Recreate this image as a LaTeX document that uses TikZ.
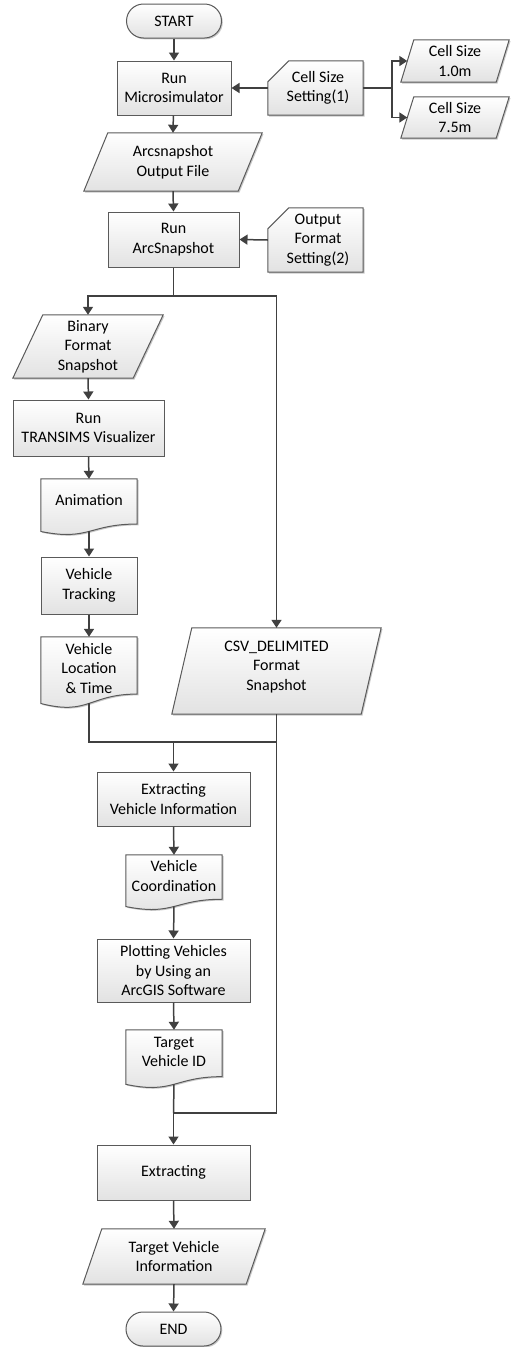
\documentclass[tikz,border=0pt]{standalone}
\usepackage{fontspec}
\setmainfont{Carlito}
\usetikzlibrary{arrows.meta,calc,shadows}
\definecolor{edgec}{HTML}{5A5A5A}
\definecolor{linec}{HTML}{404040}
\definecolor{fillb}{HTML}{E2E2E2}
\pgfdeclarelayer{bg}
\pgfdeclarelayer{paper}
\pgfsetlayers{paper,bg,main}
\tikzset{
  lbl/.style={align=center, inner sep=0pt, font=\fontsize{16}{19.5}\selectfont, text=black},
  shp/.style={draw=edgec, line width=1pt, top color=white, bottom color=fillb,
    drop shadow={shadow xshift=1.3pt, shadow yshift=-1.3pt, opacity=0.3, fill=black!70}},
  boxn/.style={lbl, shp, rectangle, minimum width=#1},
  frame/.style={rectangle, inner sep=0pt, draw=none, minimum width=#1},
  conn/.style={draw=linec, line width=1.5pt},
  arr/.style={conn, -{Triangle[length=8pt,width=10pt]}},
}
\newcommand\parashape[2]{\path[shp] (#1.south west) -- ($(#1.north west)+(#2,0)$) -- (#1.north east) -- ($(#1.south east)-(#2,0)$) -- cycle;}
\newcommand\cardshape[1]{\path[shp] ($(#1.north west)+(0,21)$) -- ($(#1.north west)+(21,0)$) -- (#1.north east) -- (#1.south east) -- (#1.south west) -- cycle;}
\newcommand\docshape[1]{\path[shp] (#1.north west) -- (#1.north east) -- ($(#1.north east)!0.802!(#1.south east)$) .. controls ($(#1.north)!0.802!(#1.south)$) and ($(#1.north)!1.1075!(#1.south)$) .. ($(#1.north west)!0.934!(#1.south west)$) -- cycle;}
\begin{document}
\begin{tikzpicture}[x=1pt,y=-1pt]
\begin{pgfonlayer}{paper}
\fill[white] (0,0) rectangle (518,1347);
\end{pgfonlayer}
\useasboundingbox (0,0) rectangle (518,1347);

% ---- nodes ----
\node[boxn=95pt, minimum height=34pt, rounded corners=17pt] (start) at (174,21) {START};
\node[boxn=114pt, minimum height=54pt] (rmic) at (174,88) {Run\\Microsimulator};
\node[frame=95pt, minimum height=54pt] (cs1) at (315.5,88) {};
\node[lbl] (cs1t) at (318,88) {Cell Size\\Setting(1)};
\node[frame=108pt, minimum height=42pt] (c10) at (455,61) {};
\node[lbl] (c10t) at (455,61) {Cell Size\\1.0m};
\node[frame=108pt, minimum height=41pt] (c75) at (455,117.5) {};
\node[lbl] (c75t) at (455,117.5) {Cell Size\\7.5m};
\node[frame=178pt, minimum height=58pt] (aof) at (173,162) {};
\node[lbl] (aoft) at (173,162) {Arcsnapshot\\Output File};
\node[boxn=131pt, minimum height=55pt] (rarc) at (173.5,239.5) {Run\\ArcSnapshot};
\node[frame=95pt, minimum height=64pt] (ofs) at (315.5,240) {};
\node[lbl] (ofst) at (318,240) {Output\\Format\\Setting(2)};
\node[frame=150pt, minimum height=63pt] (bin) at (88,346.5) {};
\node[lbl] (bint) at (88,346.5) {Binary\\Format\\Snapshot};
\node[boxn=151pt, minimum height=56pt] (rtv) at (88.5,428) {Run\\TRANSIMS Visualizer};
\node[frame=96pt, minimum height=56pt] (anim) at (89,507) {};
\node[lbl] (animt) at (89,500) {Animation};
\node[boxn=96pt, minimum height=57pt] (vt) at (89,585.5) {Vehicle\\Tracking};
\node[frame=96pt, minimum height=71pt] (vloc) at (89,672.5) {};
\node[lbl] (vloct) at (89,668) {Vehicle\\Location\\\& Time};
\node[frame=209pt, minimum height=86pt] (csv) at (276.5,671) {};
\node[lbl] (csvt) at (276.5,667) {CSV\_DELIMITED\\Format\\Snapshot};
\node[boxn=153pt, minimum height=54pt] (evi) at (173.5,799) {Extracting\\Vehicle Information};
\node[frame=96pt, minimum height=55pt] (vco) at (174,882.5) {};
\node[lbl] (vcot) at (174,876) {Vehicle\\Coordination};
\node[boxn=153pt, minimum height=63pt] (pv) at (173.5,970.5) {Plotting Vehicles\\by Using an\\ArcGIS Software};
\node[frame=96pt, minimum height=58pt] (tvid) at (174,1059) {};
\node[lbl] (tvidt) at (174,1052) {Target\\Vehicle ID};
\node[boxn=153pt, minimum height=55pt] (ext) at (173.5,1172.5) {Extracting};
\node[frame=182pt, minimum height=55pt] (tvi) at (174,1256.5) {};
\node[lbl] (tvit) at (174,1256.5) {Target Vehicle\\Information};
\node[boxn=95pt, minimum height=34pt, rounded corners=17pt] (end) at (173.5,1329) {END};

% ---- shapes behind labels ----
\begin{pgfonlayer}{bg}
\cardshape{cs1}
\cardshape{ofs}
\parashape{c10}{13}
\parashape{c75}{13}
\parashape{aof}{24}
\parashape{bin}{30}
\parashape{csv}{20}
\parashape{tvi}{19}
\docshape{anim}
\docshape{vloc}
\docshape{vco}
\docshape{tvid}
\end{pgfonlayer}

% ---- junction points ----
\coordinate (cj) at (392,88);
\coordinate (j1) at (173.5,296);
\coordinate (m1) at (173.5,742);
\coordinate (m1r) at (276.5,742);
\coordinate (m2) at (276.5,1113);
\coordinate (m3) at (173.5,1113);

% ---- connectors ----
\draw[arr] (start) -- (rmic);
\draw[arr] (cs1.west) -- (rmic.east);
\draw[conn] (cs1.east) -- (cj);
\draw[arr] (cj) |- ($(c10.west)+(6.5,0)$);
\draw[arr] (cj) |- ($(c75.west)+(6.5,0)$);
\draw[arr] (rmic) -- (aof.north);
\draw[arr] (aof.south) -- (rarc.north);
\draw[arr] (ofs.west) -- (rarc.east);
\draw[conn] (rarc.south) -- (j1);
\draw[arr] (j1) -| (bin.north);
\draw[arr] (j1) -| (csv.north);
\draw[arr] (bin.south) -- (rtv.north);
\draw[arr] (rtv.south) -- (anim.north);
\draw[arr] ($(anim.north)!0.933!(anim.south)$) -- (vt.north);
\draw[arr] (vt.south) -- (vloc.north);
\draw[conn] ($(vloc.north)!0.933!(vloc.south)$) |- (m1r);
\draw[arr] (m1) -- (evi.north);
\draw[conn] (csv.south) -- (m2) -- (m3);
\draw[arr] (evi.south) -- (vco.north);
\draw[arr] ($(vco.north)!0.933!(vco.south)$) -- (pv.north);
\draw[arr] (pv.south) -- (tvid.north);
\draw[conn] ($(tvid.north)!0.933!(tvid.south)$) -- (m3);
\draw[arr] (m3) -- (ext.north);
\draw[arr] (ext.south) -- (tvi.north);
\draw[arr] (tvi.south) -- (end.north);
\end{tikzpicture}
\end{document}
